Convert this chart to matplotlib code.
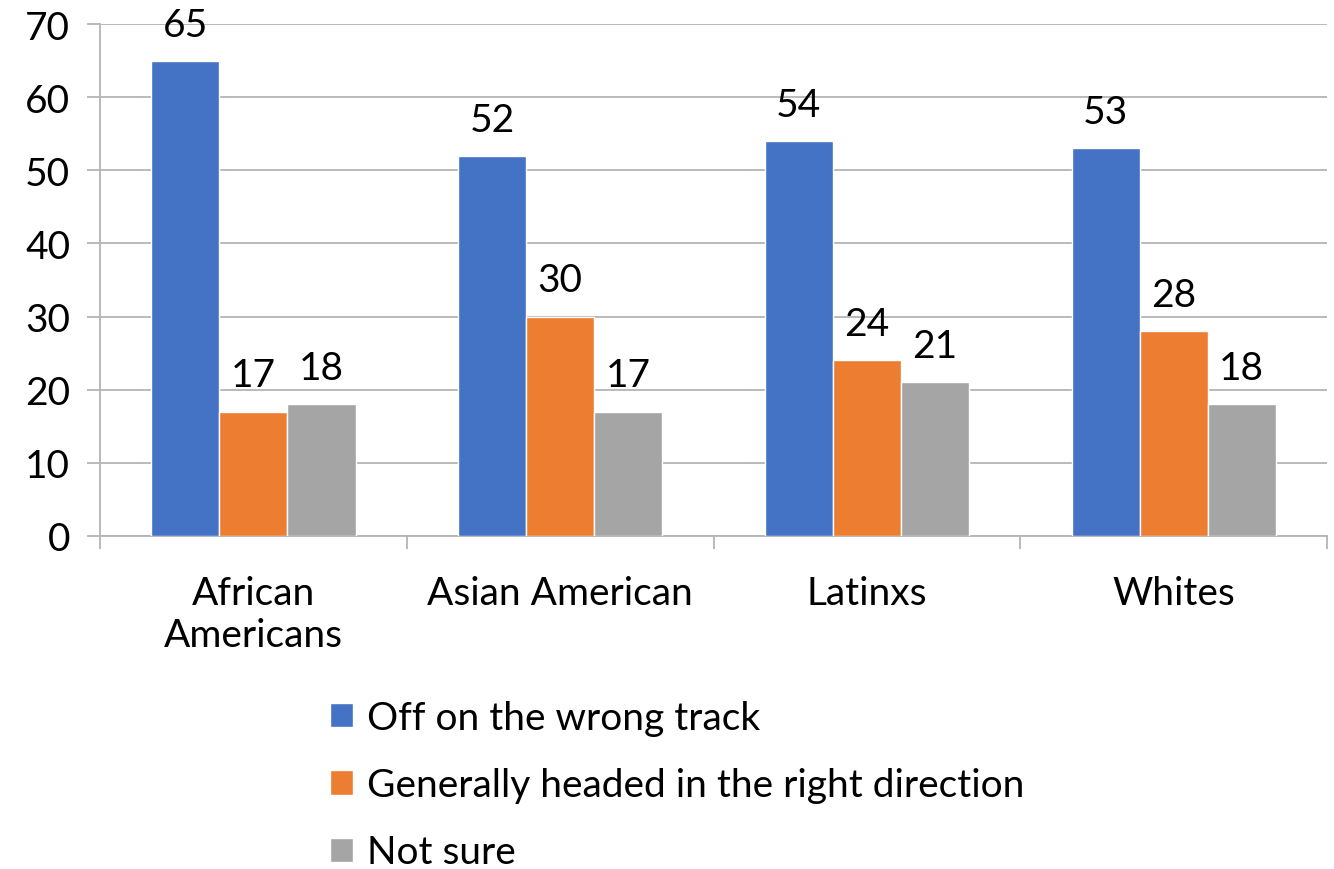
import numpy as np
import matplotlib
matplotlib.use("Agg")
import matplotlib.pyplot as plt

#data
groups = ["African\nAmericans", "Asian American", "Latinxs", "Whites"]
series_names = ["Off on the wrong track", "Generally headed in the right direction", "Not sure"]
wrong_track = [65, 52, 54, 53]
right_direction = [17, 30, 24, 28]
not_sure = [18, 17, 21, 18]
yticks = [0, 10, 20, 30, 40, 50, 60, 70]

colors = ["#4472C4", "#ED7D31", "#A5A5A5"]
grid_col = "#B4B4B4"
fs = 28

plt.rcParams["font.family"] = ["Lato", "DejaVu Sans"]

fig = plt.figure(figsize=(13.34, 8.7), dpi=100)
ax = fig.add_axes([0.075, 0.383, 0.9198, 0.588])

x = np.arange(len(groups))
w = 0.222
bars = []
for i, vals in enumerate([wrong_track, right_direction, not_sure]):
    b = ax.bar(x + (i - 1) * w, vals, width=w, color=colors[i],
               edgecolor="white", linewidth=1, label=series_names[i], zorder=3)
    ax.bar_label(b, padding=13, fontsize=fs)
    bars.append(b)

ax.set_xlim(-0.5, len(groups) - 0.5)
ax.set_ylim(0, 70)
ax.set_yticks(yticks)
ax.yaxis.grid(True, color=grid_col, linewidth=1.3, zorder=0)
ax.tick_params(axis="y", length=9.5, width=1.3, color=grid_col, pad=12, labelsize=fs)

ax.set_xticks(x)
ax.set_xticklabels(groups, fontsize=fs, linespacing=1.22)
ax.set_xticks(np.arange(len(groups) + 1) - 0.5, minor=True)
ax.tick_params(axis="x", which="major", length=0, pad=28)
ax.tick_params(axis="x", which="minor", length=9.5, width=1.3, color=grid_col)

for s in ["top", "right"]:
    ax.spines[s].set_visible(False)
for s in ["left", "bottom"]:
    ax.spines[s].set_color(grid_col)
    ax.spines[s].set_linewidth(1.3)

fig.legend(handles=bars, loc="upper left", bbox_to_anchor=(0.236, 0.212),
           frameon=False, fontsize=fs, handlelength=0.58, handleheight=0.58,
           handletextpad=0.35, labelspacing=0.8, borderaxespad=0)

plt.savefig("out.png", dpi=100)
